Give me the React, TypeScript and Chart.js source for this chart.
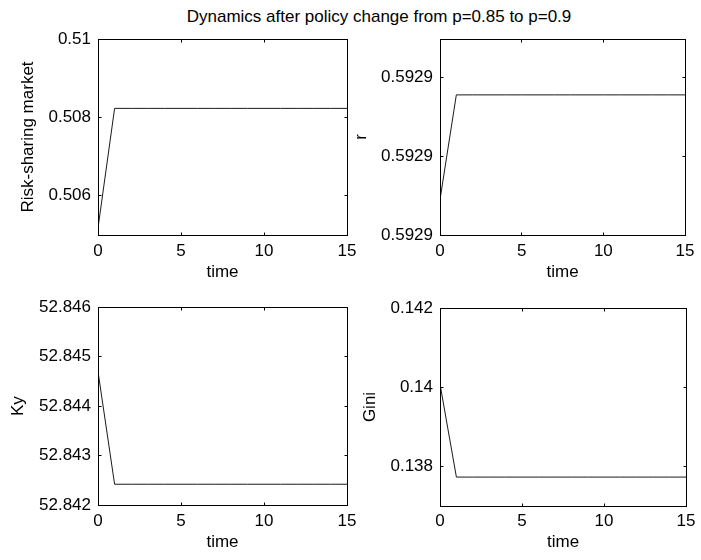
import React, { useEffect, useRef } from "react";
import { Chart, registerables } from "chart.js";

Chart.register(...registerables);

// ---- data ----
const TIME = [0, 1, 2, 3, 4, 5, 6, 7, 8, 9, 10, 11, 12, 13, 14, 15];
const RISK_SHARING = [
  0.50518, 0.50823, 0.50823, 0.50823, 0.50823, 0.50823, 0.50823, 0.50823,
  0.50823, 0.50823, 0.50823, 0.50823, 0.50823, 0.50823, 0.50823, 0.50823,
];
const R_VALUES = [
  0.5928845, 0.5928978, 0.5928978, 0.5928978, 0.5928978, 0.5928978, 0.5928978, 0.5928978,
  0.5928978, 0.5928978, 0.5928978, 0.5928978, 0.5928978, 0.5928978, 0.5928978, 0.5928978,
];
const KY_VALUES = [
  52.8447, 52.84242, 52.84242, 52.84242, 52.84242, 52.84242, 52.84242, 52.84242,
  52.84242, 52.84242, 52.84242, 52.84242, 52.84242, 52.84242, 52.84242, 52.84242,
];
const GINI_VALUES = [
  0.14008, 0.13773, 0.13773, 0.13773, 0.13773, 0.13773, 0.13773, 0.13773,
  0.13773, 0.13773, 0.13773, 0.13773, 0.13773, 0.13773, 0.13773, 0.13773,
];

const X_TICKS = [0, 5, 10, 15];
const X_TICK_LABELS = ["0", "5", "10", "15"];
const RISK_TICKS = [0.506, 0.508, 0.51];
const RISK_TICK_LABELS = ["0.506", "0.508", "0.51"];
const R_TICKS = [0.59288, 0.59289, 0.5929];
const R_TICK_LABELS = ["0.5929", "0.5929", "0.5929"];
const KY_TICKS = [52.842, 52.843, 52.844, 52.845, 52.846];
const KY_TICK_LABELS = ["52.842", "52.843", "52.844", "52.845", "52.846"];
const GINI_TICKS = [0.138, 0.14, 0.142];
const GINI_TICK_LABELS = ["0.138", "0.14", "0.142"];

const TITLE = "Dynamics after policy change from p=0.85 to p=0.9";
const X_LABEL = "time";

// ---- layout ----
const FONT_FAMILY = "'Liberation Sans', Arial, Helvetica, sans-serif";
const FONT_SIZE = 17;

type PanelCfg = {
  label: string;
  values: number[];
  ticks: number[];
  tickLabels: string[];
  yMin: number;
  yMax: number;
  canvas: { left: number; top: number; w: number; h: number };
  area: { left: number; top: number; right: number; bottom: number };
  yTitleX: number;
  xTitleY: number;
  xTickCenterY: number;
};

const PANELS: PanelCfg[] = [
  {
    label: "Risk-sharing market",
    values: RISK_SHARING,
    ticks: RISK_TICKS,
    tickLabels: RISK_TICK_LABELS,
    yMin: 0.505,
    yMax: 0.51,
    canvas: { left: 0, top: 0, w: 365, h: 290 },
    area: { left: 98, top: 39, right: 347, bottom: 235 },
    yTitleX: 28,
    xTitleY: 272,
    xTickCenterY: 251.7,
  },
  {
    label: "r",
    values: R_VALUES,
    ticks: R_TICKS,
    tickLabels: R_TICK_LABELS,
    yMin: 0.59288,
    yMax: 0.5929049,
    canvas: { left: 350, top: 0, w: 351, h: 290 },
    area: { left: 440, top: 39, right: 690, bottom: 235 },
    yTitleX: 361,
    xTitleY: 272,
    xTickCenterY: 251.7,
  },
  {
    label: "Ky",
    values: KY_VALUES,
    ticks: KY_TICKS,
    tickLabels: KY_TICK_LABELS,
    yMin: 52.842,
    yMax: 52.846,
    canvas: { left: 0, top: 290, w: 365, h: 270 },
    area: { left: 98, top: 307, right: 347, bottom: 505 },
    yTitleX: 18,
    xTitleY: 542,
    xTickCenterY: 521.7,
  },
  {
    label: "Gini",
    values: GINI_VALUES,
    ticks: GINI_TICKS,
    tickLabels: GINI_TICK_LABELS,
    yMin: 0.137,
    yMax: 0.142,
    canvas: { left: 350, top: 290, w: 351, h: 270 },
    area: { left: 440, top: 308, right: 690, bottom: 506 },
    yTitleX: 370,
    xTitleY: 542,
    xTickCenterY: 521.7,
  },
];

const boxPlugin = {
  id: "matlabBox",
  afterDraw(chart: any) {
    const { ctx, chartArea: a, scales } = chart;
    const L = Math.floor(a.left) + 0.5;
    const R = Math.floor(a.right) + 0.5;
    const T = Math.floor(a.top) + 0.5;
    const B = Math.floor(a.bottom) + 0.5;
    const len = 3;
    ctx.save();
    ctx.strokeStyle = "#000";
    ctx.lineWidth = 1;
    ctx.strokeRect(L, T, R - L, B - T);
    ctx.beginPath();
    scales.x.ticks.forEach((t: any) => {
      const px = Math.floor(scales.x.getPixelForValue(t.value)) + 0.5;
      ctx.moveTo(px, B);
      ctx.lineTo(px, B - len);
      ctx.moveTo(px, T);
      ctx.lineTo(px, T + len);
    });
    scales.y.ticks.forEach((t: any) => {
      const py = Math.floor(scales.y.getPixelForValue(t.value)) + 0.5;
      ctx.moveTo(L, py);
      ctx.lineTo(L + len, py);
      ctx.moveTo(R, py);
      ctx.lineTo(R - len, py);
    });
    ctx.stroke();
    ctx.restore();
  },
};

function Panel({ cfg }: { cfg: PanelCfg }) {
  const ref = useRef<HTMLCanvasElement>(null);
  useEffect(() => {
    const c = cfg.canvas;
    const a = cfg.area;
    const lh = FONT_SIZE * 1.2;
    const yWidth = a.left - c.left;
    const xHeight = 50;
    const padTop = a.top - c.top;
    const padRight = c.left + c.w - a.right;
    const padBottom = c.top + c.h - a.bottom - xHeight;
    const xScaleBottom = a.bottom + xHeight;
    const font = { family: FONT_FAMILY, size: FONT_SIZE };
    const chart = new Chart(ref.current as HTMLCanvasElement, {
      type: "line",
      data: {
        datasets: [
          {
            data: TIME.map((t, i) => ({ x: t, y: cfg.values[i] })),
            borderColor: "#1a1a1a",
            borderWidth: 1,
            pointRadius: 0,
            tension: 0,
            fill: false,
          },
        ],
      },
      options: {
        animation: false,
        responsive: false,
        devicePixelRatio: 1,
        events: [],
        layout: { padding: { left: 0, top: padTop, right: padRight, bottom: padBottom } },
        plugins: {
          legend: { display: false },
          tooltip: { enabled: false },
          title: { display: false },
        },
        scales: {
          x: {
            type: "linear",
            min: 0,
            max: 15,
            bounds: "data",
            grid: { display: false, drawTicks: false },
            border: { display: false },
            ticks: {
              autoSkip: false,
              maxRotation: 0,
              color: "#000",
              font,
              padding: cfg.xTickCenterY - a.bottom - lh / 2,
              callback: (_v: any, i: number) => X_TICK_LABELS[i],
            },
            afterBuildTicks: (s: any) => {
              s.ticks = X_TICKS.map((v) => ({ value: v }));
            },
            afterFit: (s: any) => {
              s.height = xHeight;
            },
            title: {
              display: true,
              text: X_LABEL,
              color: "#000",
              font,
              padding: { top: 0, bottom: xScaleBottom - lh / 2 - cfg.xTitleY },
            },
          },
          y: {
            type: "linear",
            min: cfg.yMin,
            max: cfg.yMax,
            bounds: "data",
            grid: { display: false, drawTicks: false },
            border: { display: false },
            ticks: {
              autoSkip: false,
              color: "#000",
              font,
              padding: 7,
              callback: (_v: any, i: number) => cfg.tickLabels[i],
            },
            afterBuildTicks: (s: any) => {
              s.ticks = cfg.ticks.map((v) => ({ value: v }));
            },
            afterFit: (s: any) => {
              s.width = yWidth;
            },
            title: {
              display: true,
              text: cfg.label,
              color: "#000",
              font,
              padding: { top: cfg.yTitleX - c.left - lh / 2, bottom: 0 },
            },
          },
        },
      },
      plugins: [boxPlugin],
    } as any);
    return () => chart.destroy();
  }, [cfg]);
  return (
    <canvas
      ref={ref}
      width={cfg.canvas.w}
      height={cfg.canvas.h}
      style={{
        position: "absolute",
        left: cfg.canvas.left,
        top: cfg.canvas.top,
        width: cfg.canvas.w,
        height: cfg.canvas.h,
        display: "block",
      }}
    />
  );
}

export default function App() {
  return (
    <div
      style={{
        position: "absolute",
        left: 0,
        top: 0,
        width: 701,
        height: 560,
        background: "#fff",
        overflow: "hidden",
      }}
    >
      <div
        style={{
          position: "absolute",
          left: 379,
          top: 7,
          transform: "translateX(-50%)",
          whiteSpace: "nowrap",
          fontFamily: FONT_FAMILY,
          fontSize: FONT_SIZE,
          lineHeight: "20px",
          color: "#000",
        }}
      >
        {TITLE}
      </div>
      {PANELS.map((p, i) => (
        <Panel key={i} cfg={p} />
      ))}
    </div>
  );
}
